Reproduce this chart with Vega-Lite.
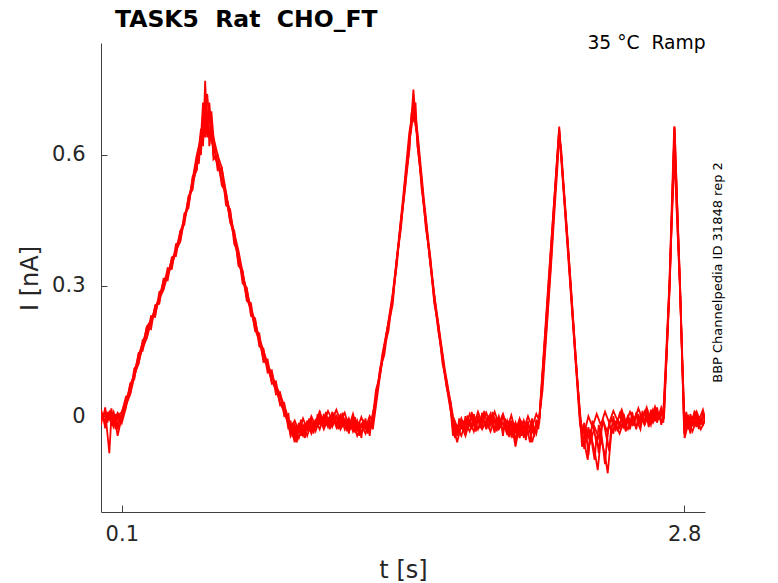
{
  "$schema": "https://vega.github.io/schema/vega-lite/v6.json",
  "width": 604,
  "height": 469,
  "autosize": {"type": "none"},
  "padding": {"left": 101, "top": 43, "right": 73, "bottom": 71},
  "background": "white",
  "config": {
    "view": {"stroke": null},
    "font": "DejaVu Sans",
    "axis": {"grid": false, "labelFont": "DejaVu Sans", "titleFont": "DejaVu Sans"}
  },
  "title": {
    "text": "TASK5\u00a0 Rat\u00a0 CHO_FT",
    "anchor": "start",
    "frame": "group",
    "fontSize": 23.5,
    "fontWeight": "bold",
    "color": "black",
    "dx": 14,
    "dy": 17,
    "offset": 0,
    "baseline": "alphabetic"
  },
  "data": {
    "values": [
      {"sweep": "a", "t": 0.00, "i": 0.005}, {"sweep": "a", "t": 0.02, "i": -0.012}, {"sweep": "a", "t": 0.04, "i": 0.010}, {"sweep": "a", "t": 0.06, "i": -0.015}, {"sweep": "a", "t": 0.08, "i": 0.008}, {"sweep": "a", "t": 0.10, "i": -0.005},
      {"sweep": "a", "t": 0.14, "i": 0.070}, {"sweep": "a", "t": 0.18, "i": 0.120}, {"sweep": "a", "t": 0.22, "i": 0.205}, {"sweep": "a", "t": 0.26, "i": 0.235}, {"sweep": "a", "t": 0.30, "i": 0.310}, {"sweep": "a", "t": 0.34, "i": 0.345}, {"sweep": "a", "t": 0.38, "i": 0.420}, {"sweep": "a", "t": 0.42, "i": 0.485}, {"sweep": "a", "t": 0.46, "i": 0.590}, {"sweep": "a", "t": 0.48, "i": 0.620}, {"sweep": "a", "t": 0.49, "i": 0.680}, {"sweep": "a", "t": 0.50, "i": 0.640}, {"sweep": "a", "t": 0.51, "i": 0.700}, {"sweep": "a", "t": 0.52, "i": 0.650}, {"sweep": "a", "t": 0.54, "i": 0.620}, {"sweep": "a", "t": 0.58, "i": 0.540}, {"sweep": "a", "t": 0.62, "i": 0.470}, {"sweep": "a", "t": 0.66, "i": 0.355}, {"sweep": "a", "t": 0.70, "i": 0.290}, {"sweep": "a", "t": 0.74, "i": 0.200}, {"sweep": "a", "t": 0.78, "i": 0.145}, {"sweep": "a", "t": 0.82, "i": 0.080}, {"sweep": "a", "t": 0.86, "i": 0.045}, {"sweep": "a", "t": 0.89, "i": -0.005},
      {"sweep": "a", "t": 0.91, "i": -0.030}, {"sweep": "a", "t": 0.93, "i": -0.010}, {"sweep": "a", "t": 0.95, "i": -0.035}, {"sweep": "a", "t": 0.97, "i": -0.005}, {"sweep": "a", "t": 0.99, "i": -0.030}, {"sweep": "a", "t": 1.01, "i": 0.000}, {"sweep": "a", "t": 1.03, "i": -0.022}, {"sweep": "a", "t": 1.05, "i": 0.010}, {"sweep": "a", "t": 1.07, "i": -0.015}, {"sweep": "a", "t": 1.09, "i": 0.012}, {"sweep": "a", "t": 1.11, "i": -0.008}, {"sweep": "a", "t": 1.13, "i": 0.015}, {"sweep": "a", "t": 1.15, "i": -0.012}, {"sweep": "a", "t": 1.17, "i": 0.008}, {"sweep": "a", "t": 1.19, "i": -0.025}, {"sweep": "a", "t": 1.21, "i": 0.005}, {"sweep": "a", "t": 1.23, "i": -0.030}, {"sweep": "a", "t": 1.25, "i": -0.002}, {"sweep": "a", "t": 1.27, "i": -0.028}, {"sweep": "a", "t": 1.29, "i": 0.000}, {"sweep": "a", "t": 1.305, "i": -0.015},
      {"sweep": "a", "t": 1.35, "i": 0.140}, {"sweep": "a", "t": 1.40, "i": 0.265}, {"sweep": "a", "t": 1.45, "i": 0.490}, {"sweep": "a", "t": 1.48, "i": 0.630}, {"sweep": "a", "t": 1.50, "i": 0.700}, {"sweep": "a", "t": 1.52, "i": 0.640}, {"sweep": "a", "t": 1.55, "i": 0.480}, {"sweep": "a", "t": 1.60, "i": 0.275}, {"sweep": "a", "t": 1.65, "i": 0.100}, {"sweep": "a", "t": 1.69, "i": -0.010},
      {"sweep": "a", "t": 1.71, "i": -0.040}, {"sweep": "a", "t": 1.73, "i": -0.005}, {"sweep": "a", "t": 1.75, "i": -0.030}, {"sweep": "a", "t": 1.77, "i": 0.005}, {"sweep": "a", "t": 1.79, "i": -0.020}, {"sweep": "a", "t": 1.81, "i": 0.010}, {"sweep": "a", "t": 1.83, "i": -0.015}, {"sweep": "a", "t": 1.85, "i": 0.008}, {"sweep": "a", "t": 1.87, "i": -0.020}, {"sweep": "a", "t": 1.89, "i": 0.010}, {"sweep": "a", "t": 1.91, "i": -0.018}, {"sweep": "a", "t": 1.93, "i": 0.005}, {"sweep": "a", "t": 1.95, "i": -0.030}, {"sweep": "a", "t": 1.97, "i": 0.002}, {"sweep": "a", "t": 1.99, "i": -0.035}, {"sweep": "a", "t": 2.01, "i": -0.005}, {"sweep": "a", "t": 2.03, "i": -0.030}, {"sweep": "a", "t": 2.05, "i": 0.000}, {"sweep": "a", "t": 2.07, "i": -0.025}, {"sweep": "a", "t": 2.09, "i": 0.005}, {"sweep": "a", "t": 2.105, "i": -0.010},
      {"sweep": "a", "t": 2.15, "i": 0.310}, {"sweep": "a", "t": 2.20, "i": 0.665}, {"sweep": "a", "t": 2.25, "i": 0.330}, {"sweep": "a", "t": 2.30, "i": -0.010},
      {"sweep": "a", "t": 2.32, "i": -0.040}, {"sweep": "a", "t": 2.34, "i": 0.000}, {"sweep": "a", "t": 2.36, "i": -0.025}, {"sweep": "a", "t": 2.38, "i": 0.005}, {"sweep": "a", "t": 2.40, "i": -0.020}, {"sweep": "a", "t": 2.42, "i": 0.010}, {"sweep": "a", "t": 2.44, "i": -0.015}, {"sweep": "a", "t": 2.46, "i": 0.012}, {"sweep": "a", "t": 2.48, "i": -0.010}, {"sweep": "a", "t": 2.50, "i": 0.015}, {"sweep": "a", "t": 2.52, "i": -0.015}, {"sweep": "a", "t": 2.54, "i": 0.010}, {"sweep": "a", "t": 2.56, "i": -0.012}, {"sweep": "a", "t": 2.58, "i": 0.018}, {"sweep": "a", "t": 2.60, "i": -0.008}, {"sweep": "a", "t": 2.62, "i": 0.020}, {"sweep": "a", "t": 2.64, "i": -0.010}, {"sweep": "a", "t": 2.66, "i": 0.022}, {"sweep": "a", "t": 2.68, "i": -0.005}, {"sweep": "a", "t": 2.70, "i": 0.010},
      {"sweep": "a", "t": 2.73, "i": 0.310}, {"sweep": "a", "t": 2.754, "i": 0.665}, {"sweep": "a", "t": 2.78, "i": 0.300}, {"sweep": "a", "t": 2.80, "i": -0.030}, {"sweep": "a", "t": 2.82, "i": 0.000}, {"sweep": "a", "t": 2.84, "i": -0.020}, {"sweep": "a", "t": 2.86, "i": 0.010}, {"sweep": "a", "t": 2.88, "i": -0.015}, {"sweep": "a", "t": 2.90, "i": 0.005},

      {"sweep": "b", "t": 0.00, "i": -0.010}, {"sweep": "b", "t": 0.02, "i": 0.012}, {"sweep": "b", "t": 0.04, "i": -0.085}, {"sweep": "b", "t": 0.05, "i": 0.000}, {"sweep": "b", "t": 0.06, "i": 0.010}, {"sweep": "b", "t": 0.08, "i": -0.045}, {"sweep": "b", "t": 0.10, "i": 0.000},
      {"sweep": "b", "t": 0.14, "i": 0.050}, {"sweep": "b", "t": 0.18, "i": 0.130}, {"sweep": "b", "t": 0.22, "i": 0.180}, {"sweep": "b", "t": 0.26, "i": 0.250}, {"sweep": "b", "t": 0.30, "i": 0.290}, {"sweep": "b", "t": 0.34, "i": 0.360}, {"sweep": "b", "t": 0.38, "i": 0.400}, {"sweep": "b", "t": 0.42, "i": 0.500}, {"sweep": "b", "t": 0.46, "i": 0.570}, {"sweep": "b", "t": 0.48, "i": 0.660}, {"sweep": "b", "t": 0.49, "i": 0.620}, {"sweep": "b", "t": 0.50, "i": 0.770}, {"sweep": "b", "t": 0.51, "i": 0.660}, {"sweep": "b", "t": 0.52, "i": 0.720}, {"sweep": "b", "t": 0.54, "i": 0.600}, {"sweep": "b", "t": 0.58, "i": 0.560}, {"sweep": "b", "t": 0.62, "i": 0.450}, {"sweep": "b", "t": 0.66, "i": 0.370}, {"sweep": "b", "t": 0.70, "i": 0.270}, {"sweep": "b", "t": 0.74, "i": 0.220}, {"sweep": "b", "t": 0.78, "i": 0.130}, {"sweep": "b", "t": 0.82, "i": 0.100}, {"sweep": "b", "t": 0.86, "i": 0.030}, {"sweep": "b", "t": 0.89, "i": 0.000},
      {"sweep": "b", "t": 0.91, "i": -0.020}, {"sweep": "b", "t": 0.93, "i": -0.060}, {"sweep": "b", "t": 0.95, "i": -0.025}, {"sweep": "b", "t": 0.97, "i": -0.045}, {"sweep": "b", "t": 0.99, "i": -0.015}, {"sweep": "b", "t": 1.01, "i": -0.040}, {"sweep": "b", "t": 1.03, "i": -0.010}, {"sweep": "b", "t": 1.05, "i": -0.030}, {"sweep": "b", "t": 1.07, "i": 0.000}, {"sweep": "b", "t": 1.09, "i": -0.025}, {"sweep": "b", "t": 1.11, "i": 0.005}, {"sweep": "b", "t": 1.13, "i": -0.020}, {"sweep": "b", "t": 1.15, "i": 0.002}, {"sweep": "b", "t": 1.17, "i": -0.030}, {"sweep": "b", "t": 1.19, "i": -0.005}, {"sweep": "b", "t": 1.21, "i": -0.035}, {"sweep": "b", "t": 1.23, "i": -0.010}, {"sweep": "b", "t": 1.25, "i": -0.040}, {"sweep": "b", "t": 1.27, "i": -0.015}, {"sweep": "b", "t": 1.29, "i": -0.035}, {"sweep": "b", "t": 1.305, "i": 0.000},
      {"sweep": "b", "t": 1.35, "i": 0.125}, {"sweep": "b", "t": 1.40, "i": 0.280}, {"sweep": "b", "t": 1.45, "i": 0.480}, {"sweep": "b", "t": 1.48, "i": 0.610}, {"sweep": "b", "t": 1.50, "i": 0.750}, {"sweep": "b", "t": 1.52, "i": 0.620}, {"sweep": "b", "t": 1.55, "i": 0.490}, {"sweep": "b", "t": 1.60, "i": 0.265}, {"sweep": "b", "t": 1.65, "i": 0.095}, {"sweep": "b", "t": 1.69, "i": -0.020},
      {"sweep": "b", "t": 1.71, "i": -0.060}, {"sweep": "b", "t": 1.73, "i": -0.020}, {"sweep": "b", "t": 1.75, "i": -0.045}, {"sweep": "b", "t": 1.77, "i": -0.010}, {"sweep": "b", "t": 1.79, "i": -0.035}, {"sweep": "b", "t": 1.81, "i": -0.005}, {"sweep": "b", "t": 1.83, "i": -0.030}, {"sweep": "b", "t": 1.85, "i": -0.010}, {"sweep": "b", "t": 1.87, "i": -0.035}, {"sweep": "b", "t": 1.89, "i": -0.005}, {"sweep": "b", "t": 1.91, "i": -0.030}, {"sweep": "b", "t": 1.93, "i": -0.015}, {"sweep": "b", "t": 1.95, "i": -0.040}, {"sweep": "b", "t": 1.97, "i": -0.010}, {"sweep": "b", "t": 1.99, "i": -0.070}, {"sweep": "b", "t": 2.01, "i": -0.020}, {"sweep": "b", "t": 2.03, "i": -0.045}, {"sweep": "b", "t": 2.05, "i": -0.015}, {"sweep": "b", "t": 2.07, "i": -0.060}, {"sweep": "b", "t": 2.09, "i": -0.020}, {"sweep": "b", "t": 2.105, "i": -0.005},
      {"sweep": "b", "t": 2.15, "i": 0.300}, {"sweep": "b", "t": 2.20, "i": 0.655}, {"sweep": "b", "t": 2.25, "i": 0.320}, {"sweep": "b", "t": 2.30, "i": -0.020},
      {"sweep": "b", "t": 2.32, "i": -0.060}, {"sweep": "b", "t": 2.337, "i": -0.100}, {"sweep": "b", "t": 2.35, "i": -0.040}, {"sweep": "b", "t": 2.37, "i": -0.080}, {"sweep": "b", "t": 2.385, "i": -0.124}, {"sweep": "b", "t": 2.40, "i": -0.050}, {"sweep": "b", "t": 2.42, "i": -0.090}, {"sweep": "b", "t": 2.433, "i": -0.131}, {"sweep": "b", "t": 2.45, "i": -0.040}, {"sweep": "b", "t": 2.47, "i": -0.020}, {"sweep": "b", "t": 2.49, "i": -0.040}, {"sweep": "b", "t": 2.51, "i": -0.010}, {"sweep": "b", "t": 2.53, "i": -0.030}, {"sweep": "b", "t": 2.55, "i": -0.005}, {"sweep": "b", "t": 2.57, "i": -0.025}, {"sweep": "b", "t": 2.59, "i": 0.000}, {"sweep": "b", "t": 2.61, "i": -0.020}, {"sweep": "b", "t": 2.63, "i": 0.005}, {"sweep": "b", "t": 2.65, "i": -0.015}, {"sweep": "b", "t": 2.67, "i": 0.010}, {"sweep": "b", "t": 2.69, "i": -0.010}, {"sweep": "b", "t": 2.703, "i": -0.005},
      {"sweep": "b", "t": 2.73, "i": 0.300}, {"sweep": "b", "t": 2.754, "i": 0.660}, {"sweep": "b", "t": 2.78, "i": 0.290}, {"sweep": "b", "t": 2.802, "i": -0.050}, {"sweep": "b", "t": 2.82, "i": -0.015}, {"sweep": "b", "t": 2.84, "i": -0.035}, {"sweep": "b", "t": 2.86, "i": -0.005}, {"sweep": "b", "t": 2.88, "i": -0.030}, {"sweep": "b", "t": 2.90, "i": -0.010},

      {"sweep": "c", "t": 0.00, "i": 0.015}, {"sweep": "c", "t": 0.02, "i": -0.020}, {"sweep": "c", "t": 0.04, "i": 0.005}, {"sweep": "c", "t": 0.06, "i": -0.025}, {"sweep": "c", "t": 0.08, "i": 0.000}, {"sweep": "c", "t": 0.10, "i": 0.010},
      {"sweep": "c", "t": 0.14, "i": 0.060}, {"sweep": "c", "t": 0.18, "i": 0.140}, {"sweep": "c", "t": 0.22, "i": 0.195}, {"sweep": "c", "t": 0.26, "i": 0.245}, {"sweep": "c", "t": 0.30, "i": 0.300}, {"sweep": "c", "t": 0.34, "i": 0.350}, {"sweep": "c", "t": 0.38, "i": 0.410}, {"sweep": "c", "t": 0.42, "i": 0.490}, {"sweep": "c", "t": 0.46, "i": 0.600}, {"sweep": "c", "t": 0.48, "i": 0.640}, {"sweep": "c", "t": 0.49, "i": 0.720}, {"sweep": "c", "t": 0.50, "i": 0.690}, {"sweep": "c", "t": 0.51, "i": 0.740}, {"sweep": "c", "t": 0.52, "i": 0.680}, {"sweep": "c", "t": 0.53, "i": 0.700}, {"sweep": "c", "t": 0.54, "i": 0.640}, {"sweep": "c", "t": 0.56, "i": 0.600}, {"sweep": "c", "t": 0.58, "i": 0.570}, {"sweep": "c", "t": 0.62, "i": 0.460}, {"sweep": "c", "t": 0.66, "i": 0.380}, {"sweep": "c", "t": 0.70, "i": 0.280}, {"sweep": "c", "t": 0.74, "i": 0.210}, {"sweep": "c", "t": 0.78, "i": 0.150}, {"sweep": "c", "t": 0.82, "i": 0.090}, {"sweep": "c", "t": 0.86, "i": 0.050}, {"sweep": "c", "t": 0.89, "i": 0.010},
      {"sweep": "c", "t": 0.91, "i": -0.045}, {"sweep": "c", "t": 0.93, "i": -0.020}, {"sweep": "c", "t": 0.95, "i": -0.050}, {"sweep": "c", "t": 0.97, "i": -0.020}, {"sweep": "c", "t": 0.99, "i": -0.045}, {"sweep": "c", "t": 1.01, "i": -0.015}, {"sweep": "c", "t": 1.03, "i": -0.035}, {"sweep": "c", "t": 1.05, "i": -0.005}, {"sweep": "c", "t": 1.07, "i": -0.030}, {"sweep": "c", "t": 1.09, "i": -0.005}, {"sweep": "c", "t": 1.11, "i": -0.025}, {"sweep": "c", "t": 1.13, "i": 0.000}, {"sweep": "c", "t": 1.15, "i": -0.030}, {"sweep": "c", "t": 1.17, "i": -0.010}, {"sweep": "c", "t": 1.19, "i": -0.035}, {"sweep": "c", "t": 1.21, "i": -0.015}, {"sweep": "c", "t": 1.23, "i": -0.045}, {"sweep": "c", "t": 1.25, "i": -0.020}, {"sweep": "c", "t": 1.27, "i": -0.040}, {"sweep": "c", "t": 1.29, "i": -0.010}, {"sweep": "c", "t": 1.305, "i": -0.030},
      {"sweep": "c", "t": 1.35, "i": 0.130}, {"sweep": "c", "t": 1.40, "i": 0.270}, {"sweep": "c", "t": 1.45, "i": 0.500}, {"sweep": "c", "t": 1.48, "i": 0.650}, {"sweep": "c", "t": 1.49, "i": 0.680}, {"sweep": "c", "t": 1.50, "i": 0.720}, {"sweep": "c", "t": 1.51, "i": 0.690}, {"sweep": "c", "t": 1.52, "i": 0.650}, {"sweep": "c", "t": 1.55, "i": 0.500}, {"sweep": "c", "t": 1.60, "i": 0.280}, {"sweep": "c", "t": 1.65, "i": 0.110}, {"sweep": "c", "t": 1.69, "i": 0.000},
      {"sweep": "c", "t": 1.71, "i": -0.025}, {"sweep": "c", "t": 1.73, "i": -0.045}, {"sweep": "c", "t": 1.75, "i": -0.015}, {"sweep": "c", "t": 1.77, "i": -0.035}, {"sweep": "c", "t": 1.79, "i": -0.005}, {"sweep": "c", "t": 1.81, "i": -0.030}, {"sweep": "c", "t": 1.83, "i": 0.000}, {"sweep": "c", "t": 1.85, "i": -0.025}, {"sweep": "c", "t": 1.87, "i": 0.005}, {"sweep": "c", "t": 1.89, "i": -0.030}, {"sweep": "c", "t": 1.91, "i": 0.000}, {"sweep": "c", "t": 1.93, "i": -0.035}, {"sweep": "c", "t": 1.95, "i": -0.010}, {"sweep": "c", "t": 1.97, "i": -0.045}, {"sweep": "c", "t": 1.99, "i": -0.015}, {"sweep": "c", "t": 2.01, "i": -0.050}, {"sweep": "c", "t": 2.03, "i": -0.010}, {"sweep": "c", "t": 2.05, "i": -0.040}, {"sweep": "c", "t": 2.07, "i": -0.015}, {"sweep": "c", "t": 2.09, "i": -0.040}, {"sweep": "c", "t": 2.105, "i": 0.000},
      {"sweep": "c", "t": 2.15, "i": 0.320}, {"sweep": "c", "t": 2.20, "i": 0.660}, {"sweep": "c", "t": 2.25, "i": 0.340}, {"sweep": "c", "t": 2.30, "i": -0.005},
      {"sweep": "c", "t": 2.31, "i": -0.070}, {"sweep": "c", "t": 2.33, "i": -0.030}, {"sweep": "c", "t": 2.35, "i": -0.060}, {"sweep": "c", "t": 2.37, "i": -0.025}, {"sweep": "c", "t": 2.39, "i": -0.050}, {"sweep": "c", "t": 2.41, "i": -0.010}, {"sweep": "c", "t": 2.43, "i": -0.035}, {"sweep": "c", "t": 2.45, "i": -0.005}, {"sweep": "c", "t": 2.47, "i": -0.030}, {"sweep": "c", "t": 2.49, "i": 0.005}, {"sweep": "c", "t": 2.51, "i": -0.025}, {"sweep": "c", "t": 2.53, "i": 0.000}, {"sweep": "c", "t": 2.55, "i": -0.020}, {"sweep": "c", "t": 2.57, "i": 0.005}, {"sweep": "c", "t": 2.59, "i": -0.020}, {"sweep": "c", "t": 2.61, "i": 0.010}, {"sweep": "c", "t": 2.63, "i": -0.015}, {"sweep": "c", "t": 2.65, "i": 0.015}, {"sweep": "c", "t": 2.67, "i": -0.010}, {"sweep": "c", "t": 2.69, "i": 0.020}, {"sweep": "c", "t": 2.703, "i": 0.000},
      {"sweep": "c", "t": 2.73, "i": 0.320}, {"sweep": "c", "t": 2.752, "i": 0.665}, {"sweep": "c", "t": 2.78, "i": 0.310}, {"sweep": "c", "t": 2.80, "i": -0.040}, {"sweep": "c", "t": 2.81, "i": 0.005}, {"sweep": "c", "t": 2.83, "i": -0.020}, {"sweep": "c", "t": 2.85, "i": 0.010}, {"sweep": "c", "t": 2.87, "i": -0.010}, {"sweep": "c", "t": 2.89, "i": 0.015}, {"sweep": "c", "t": 2.90, "i": -0.005},

      {"sweep": "d", "t": 0.00, "i": 0.012}, {"sweep": "d", "t": 0.01, "i": -0.008}, {"sweep": "d", "t": 0.02, "i": 0.020}, {"sweep": "d", "t": 0.03, "i": -0.015}, {"sweep": "d", "t": 0.04, "i": 0.004}, {"sweep": "d", "t": 0.05, "i": -0.022}, {"sweep": "d", "t": 0.06, "i": 0.010}, {"sweep": "d", "t": 0.07, "i": -0.030}, {"sweep": "d", "t": 0.08, "i": 0.002}, {"sweep": "d", "t": 0.09, "i": -0.012}, {"sweep": "d", "t": 0.10, "i": 0.008},
      {"sweep": "d", "t": 0.12, "i": 0.045}, {"sweep": "d", "t": 0.14, "i": 0.050}, {"sweep": "d", "t": 0.16, "i": 0.110}, {"sweep": "d", "t": 0.18, "i": 0.120}, {"sweep": "d", "t": 0.20, "i": 0.175}, {"sweep": "d", "t": 0.22, "i": 0.180}, {"sweep": "d", "t": 0.24, "i": 0.230}, {"sweep": "d", "t": 0.26, "i": 0.228}, {"sweep": "d", "t": 0.28, "i": 0.285}, {"sweep": "d", "t": 0.30, "i": 0.292}, {"sweep": "d", "t": 0.32, "i": 0.340}, {"sweep": "d", "t": 0.34, "i": 0.338}, {"sweep": "d", "t": 0.36, "i": 0.395}, {"sweep": "d", "t": 0.38, "i": 0.400}, {"sweep": "d", "t": 0.40, "i": 0.465}, {"sweep": "d", "t": 0.42, "i": 0.478}, {"sweep": "d", "t": 0.44, "i": 0.550}, {"sweep": "d", "t": 0.46, "i": 0.565}, {"sweep": "d", "t": 0.47, "i": 0.620}, {"sweep": "d", "t": 0.48, "i": 0.600}, {"sweep": "d", "t": 0.49, "i": 0.700}, {"sweep": "d", "t": 0.50, "i": 0.660}, {"sweep": "d", "t": 0.505, "i": 0.740}, {"sweep": "d", "t": 0.51, "i": 0.680},
      {"sweep": "d", "t": 0.52, "i": 0.700}, {"sweep": "d", "t": 0.53, "i": 0.630}, {"sweep": "d", "t": 0.54, "i": 0.640}, {"sweep": "d", "t": 0.56, "i": 0.565}, {"sweep": "d", "t": 0.58, "i": 0.570}, {"sweep": "d", "t": 0.60, "i": 0.485}, {"sweep": "d", "t": 0.62, "i": 0.475}, {"sweep": "d", "t": 0.64, "i": 0.395}, {"sweep": "d", "t": 0.66, "i": 0.375}, {"sweep": "d", "t": 0.68, "i": 0.305}, {"sweep": "d", "t": 0.70, "i": 0.295}, {"sweep": "d", "t": 0.72, "i": 0.230}, {"sweep": "d", "t": 0.74, "i": 0.225}, {"sweep": "d", "t": 0.76, "i": 0.160}, {"sweep": "d", "t": 0.78, "i": 0.155}, {"sweep": "d", "t": 0.80, "i": 0.100}, {"sweep": "d", "t": 0.82, "i": 0.105}, {"sweep": "d", "t": 0.84, "i": 0.050}, {"sweep": "d", "t": 0.86, "i": 0.055}, {"sweep": "d", "t": 0.88, "i": 0.000}, {"sweep": "d", "t": 0.90, "i": 0.005},
      {"sweep": "d", "t": 0.91, "i": -0.040}, {"sweep": "d", "t": 0.92, "i": -0.015}, {"sweep": "d", "t": 0.93, "i": -0.055}, {"sweep": "d", "t": 0.94, "i": -0.020}, {"sweep": "d", "t": 0.95, "i": -0.038}, {"sweep": "d", "t": 0.96, "i": -0.008}, {"sweep": "d", "t": 0.97, "i": -0.042}, {"sweep": "d", "t": 0.98, "i": -0.018}, {"sweep": "d", "t": 0.99, "i": -0.030}, {"sweep": "d", "t": 1.00, "i": -0.005}, {"sweep": "d", "t": 1.01, "i": -0.035}, {"sweep": "d", "t": 1.02, "i": -0.012}, {"sweep": "d", "t": 1.03, "i": -0.028}, {"sweep": "d", "t": 1.04, "i": 0.005}, {"sweep": "d", "t": 1.05, "i": -0.020}, {"sweep": "d", "t": 1.06, "i": -0.002}, {"sweep": "d", "t": 1.07, "i": -0.025}, {"sweep": "d", "t": 1.08, "i": 0.010}, {"sweep": "d", "t": 1.09, "i": -0.018}, {"sweep": "d", "t": 1.10, "i": 0.000}, {"sweep": "d", "t": 1.11, "i": -0.022}, {"sweep": "d", "t": 1.12, "i": 0.008}, {"sweep": "d", "t": 1.13, "i": -0.015}, {"sweep": "d", "t": 1.14, "i": -0.030}, {"sweep": "d", "t": 1.15, "i": 0.005}, {"sweep": "d", "t": 1.16, "i": -0.020}, {"sweep": "d", "t": 1.17, "i": -0.008}, {"sweep": "d", "t": 1.18, "i": -0.035}, {"sweep": "d", "t": 1.19, "i": -0.010}, {"sweep": "d", "t": 1.20, "i": -0.030}, {"sweep": "d", "t": 1.21, "i": 0.000}, {"sweep": "d", "t": 1.22, "i": -0.038}, {"sweep": "d", "t": 1.23, "i": -0.012}, {"sweep": "d", "t": 1.24, "i": -0.045}, {"sweep": "d", "t": 1.25, "i": -0.015}, {"sweep": "d", "t": 1.26, "i": -0.032}, {"sweep": "d", "t": 1.27, "i": -0.005}, {"sweep": "d", "t": 1.28, "i": -0.040}, {"sweep": "d", "t": 1.29, "i": -0.018}, {"sweep": "d", "t": 1.30, "i": -0.025},
      {"sweep": "d", "t": 1.32, "i": 0.060}, {"sweep": "d", "t": 1.34, "i": 0.095}, {"sweep": "d", "t": 1.36, "i": 0.160}, {"sweep": "d", "t": 1.38, "i": 0.195}, {"sweep": "d", "t": 1.40, "i": 0.275}, {"sweep": "d", "t": 1.42, "i": 0.345}, {"sweep": "d", "t": 1.44, "i": 0.450}, {"sweep": "d", "t": 1.46, "i": 0.525}, {"sweep": "d", "t": 1.48, "i": 0.635}, {"sweep": "d", "t": 1.49, "i": 0.660}, {"sweep": "d", "t": 1.50, "i": 0.730}, {"sweep": "d", "t": 1.51, "i": 0.670}, {"sweep": "d", "t": 1.52, "i": 0.640}, {"sweep": "d", "t": 1.54, "i": 0.520}, {"sweep": "d", "t": 1.56, "i": 0.450}, {"sweep": "d", "t": 1.58, "i": 0.355}, {"sweep": "d", "t": 1.60, "i": 0.280}, {"sweep": "d", "t": 1.62, "i": 0.195}, {"sweep": "d", "t": 1.64, "i": 0.140}, {"sweep": "d", "t": 1.66, "i": 0.065}, {"sweep": "d", "t": 1.68, "i": 0.030}, {"sweep": "d", "t": 1.69, "i": -0.030},
      {"sweep": "d", "t": 1.70, "i": -0.050}, {"sweep": "d", "t": 1.71, "i": -0.020}, {"sweep": "d", "t": 1.72, "i": -0.040}, {"sweep": "d", "t": 1.73, "i": -0.010}, {"sweep": "d", "t": 1.74, "i": -0.032}, {"sweep": "d", "t": 1.75, "i": 0.000}, {"sweep": "d", "t": 1.76, "i": -0.025}, {"sweep": "d", "t": 1.77, "i": -0.008}, {"sweep": "d", "t": 1.78, "i": -0.030}, {"sweep": "d", "t": 1.79, "i": 0.005}, {"sweep": "d", "t": 1.80, "i": -0.018}, {"sweep": "d", "t": 1.81, "i": -0.002}, {"sweep": "d", "t": 1.82, "i": -0.028}, {"sweep": "d", "t": 1.83, "i": 0.008}, {"sweep": "d", "t": 1.84, "i": -0.015}, {"sweep": "d", "t": 1.85, "i": -0.030}, {"sweep": "d", "t": 1.86, "i": 0.002}, {"sweep": "d", "t": 1.87, "i": -0.022}, {"sweep": "d", "t": 1.88, "i": 0.010}, {"sweep": "d", "t": 1.89, "i": -0.012}, {"sweep": "d", "t": 1.90, "i": -0.035}, {"sweep": "d", "t": 1.91, "i": -0.005}, {"sweep": "d", "t": 1.92, "i": -0.025}, {"sweep": "d", "t": 1.93, "i": 0.006}, {"sweep": "d", "t": 1.94, "i": -0.020}, {"sweep": "d", "t": 1.95, "i": -0.042}, {"sweep": "d", "t": 1.96, "i": -0.010}, {"sweep": "d", "t": 1.97, "i": -0.030}, {"sweep": "d", "t": 1.98, "i": -0.050}, {"sweep": "d", "t": 1.99, "i": -0.015}, {"sweep": "d", "t": 2.00, "i": -0.038}, {"sweep": "d", "t": 2.01, "i": -0.008}, {"sweep": "d", "t": 2.02, "i": -0.045}, {"sweep": "d", "t": 2.03, "i": -0.020}, {"sweep": "d", "t": 2.04, "i": -0.055}, {"sweep": "d", "t": 2.05, "i": -0.012}, {"sweep": "d", "t": 2.06, "i": -0.035}, {"sweep": "d", "t": 2.07, "i": -0.005}, {"sweep": "d", "t": 2.08, "i": -0.040}, {"sweep": "d", "t": 2.09, "i": -0.018}, {"sweep": "d", "t": 2.10, "i": -0.030},
      {"sweep": "d", "t": 2.12, "i": 0.080}, {"sweep": "d", "t": 2.14, "i": 0.210}, {"sweep": "d", "t": 2.16, "i": 0.350}, {"sweep": "d", "t": 2.18, "i": 0.510}, {"sweep": "d", "t": 2.20, "i": 0.650}, {"sweep": "d", "t": 2.21, "i": 0.600}, {"sweep": "d", "t": 2.22, "i": 0.530}, {"sweep": "d", "t": 2.24, "i": 0.400}, {"sweep": "d", "t": 2.26, "i": 0.260}, {"sweep": "d", "t": 2.28, "i": 0.120}, {"sweep": "d", "t": 2.30, "i": 0.010},
      {"sweep": "d", "t": 2.31, "i": -0.045}, {"sweep": "d", "t": 2.32, "i": -0.015}, {"sweep": "d", "t": 2.33, "i": -0.060}, {"sweep": "d", "t": 2.34, "i": -0.025}, {"sweep": "d", "t": 2.35, "i": -0.050}, {"sweep": "d", "t": 2.36, "i": -0.010}, {"sweep": "d", "t": 2.37, "i": -0.038}, {"sweep": "d", "t": 2.38, "i": -0.065}, {"sweep": "d", "t": 2.39, "i": -0.020}, {"sweep": "d", "t": 2.40, "i": -0.045}, {"sweep": "d", "t": 2.41, "i": -0.008}, {"sweep": "d", "t": 2.42, "i": -0.030}, {"sweep": "d", "t": 2.43, "i": -0.055}, {"sweep": "d", "t": 2.44, "i": -0.015}, {"sweep": "d", "t": 2.45, "i": -0.035}, {"sweep": "d", "t": 2.46, "i": 0.000}, {"sweep": "d", "t": 2.47, "i": -0.028}, {"sweep": "d", "t": 2.48, "i": -0.005}, {"sweep": "d", "t": 2.49, "i": -0.030}, {"sweep": "d", "t": 2.50, "i": 0.008}, {"sweep": "d", "t": 2.51, "i": -0.018}, {"sweep": "d", "t": 2.52, "i": -0.035}, {"sweep": "d", "t": 2.53, "i": 0.002}, {"sweep": "d", "t": 2.54, "i": -0.022}, {"sweep": "d", "t": 2.55, "i": 0.010}, {"sweep": "d", "t": 2.56, "i": -0.012}, {"sweep": "d", "t": 2.57, "i": -0.030}, {"sweep": "d", "t": 2.58, "i": 0.005}, {"sweep": "d", "t": 2.59, "i": -0.015}, {"sweep": "d", "t": 2.60, "i": 0.012}, {"sweep": "d", "t": 2.61, "i": -0.020}, {"sweep": "d", "t": 2.62, "i": 0.000}, {"sweep": "d", "t": 2.63, "i": -0.025}, {"sweep": "d", "t": 2.64, "i": 0.015}, {"sweep": "d", "t": 2.65, "i": -0.010}, {"sweep": "d", "t": 2.66, "i": 0.018}, {"sweep": "d", "t": 2.67, "i": -0.015}, {"sweep": "d", "t": 2.68, "i": 0.008}, {"sweep": "d", "t": 2.69, "i": -0.020}, {"sweep": "d", "t": 2.70, "i": 0.005},
      {"sweep": "d", "t": 2.715, "i": 0.130}, {"sweep": "d", "t": 2.73, "i": 0.290}, {"sweep": "d", "t": 2.74, "i": 0.450}, {"sweep": "d", "t": 2.752, "i": 0.640}, {"sweep": "d", "t": 2.765, "i": 0.470}, {"sweep": "d", "t": 2.78, "i": 0.300}, {"sweep": "d", "t": 2.79, "i": 0.150}, {"sweep": "d", "t": 2.80, "i": 0.000}, {"sweep": "d", "t": 2.805, "i": -0.040},
      {"sweep": "d", "t": 2.81, "i": -0.010}, {"sweep": "d", "t": 2.82, "i": -0.030}, {"sweep": "d", "t": 2.83, "i": 0.005}, {"sweep": "d", "t": 2.84, "i": -0.018}, {"sweep": "d", "t": 2.85, "i": 0.012}, {"sweep": "d", "t": 2.86, "i": -0.025}, {"sweep": "d", "t": 2.87, "i": 0.000}, {"sweep": "d", "t": 2.88, "i": -0.020}, {"sweep": "d", "t": 2.89, "i": 0.010}, {"sweep": "d", "t": 2.90, "i": -0.012},

      {"sweep": "e", "t": 0.00, "i": -0.020}, {"sweep": "e", "t": 0.01, "i": 0.005}, {"sweep": "e", "t": 0.02, "i": -0.028}, {"sweep": "e", "t": 0.03, "i": 0.010}, {"sweep": "e", "t": 0.04, "i": -0.010}, {"sweep": "e", "t": 0.05, "i": 0.018}, {"sweep": "e", "t": 0.06, "i": -0.020}, {"sweep": "e", "t": 0.07, "i": 0.005}, {"sweep": "e", "t": 0.08, "i": -0.030}, {"sweep": "e", "t": 0.09, "i": 0.000}, {"sweep": "e", "t": 0.10, "i": -0.015},
      {"sweep": "e", "t": 0.12, "i": 0.020}, {"sweep": "e", "t": 0.14, "i": 0.075}, {"sweep": "e", "t": 0.16, "i": 0.085}, {"sweep": "e", "t": 0.18, "i": 0.145}, {"sweep": "e", "t": 0.20, "i": 0.150}, {"sweep": "e", "t": 0.22, "i": 0.205}, {"sweep": "e", "t": 0.24, "i": 0.200}, {"sweep": "e", "t": 0.26, "i": 0.255}, {"sweep": "e", "t": 0.28, "i": 0.258}, {"sweep": "e", "t": 0.30, "i": 0.315}, {"sweep": "e", "t": 0.32, "i": 0.312}, {"sweep": "e", "t": 0.34, "i": 0.365}, {"sweep": "e", "t": 0.36, "i": 0.368}, {"sweep": "e", "t": 0.38, "i": 0.425}, {"sweep": "e", "t": 0.40, "i": 0.440}, {"sweep": "e", "t": 0.42, "i": 0.505}, {"sweep": "e", "t": 0.44, "i": 0.520}, {"sweep": "e", "t": 0.46, "i": 0.595}, {"sweep": "e", "t": 0.47, "i": 0.580}, {"sweep": "e", "t": 0.48, "i": 0.650}, {"sweep": "e", "t": 0.49, "i": 0.630}, {"sweep": "e", "t": 0.50, "i": 0.720}, {"sweep": "e", "t": 0.51, "i": 0.640}, {"sweep": "e", "t": 0.515, "i": 0.700},
      {"sweep": "e", "t": 0.52, "i": 0.620}, {"sweep": "e", "t": 0.53, "i": 0.680}, {"sweep": "e", "t": 0.54, "i": 0.590}, {"sweep": "e", "t": 0.56, "i": 0.600}, {"sweep": "e", "t": 0.58, "i": 0.530}, {"sweep": "e", "t": 0.60, "i": 0.515}, {"sweep": "e", "t": 0.62, "i": 0.445}, {"sweep": "e", "t": 0.64, "i": 0.425}, {"sweep": "e", "t": 0.66, "i": 0.345}, {"sweep": "e", "t": 0.68, "i": 0.335}, {"sweep": "e", "t": 0.70, "i": 0.265}, {"sweep": "e", "t": 0.72, "i": 0.260}, {"sweep": "e", "t": 0.74, "i": 0.195}, {"sweep": "e", "t": 0.76, "i": 0.190}, {"sweep": "e", "t": 0.78, "i": 0.125}, {"sweep": "e", "t": 0.80, "i": 0.130}, {"sweep": "e", "t": 0.82, "i": 0.075}, {"sweep": "e", "t": 0.84, "i": 0.080}, {"sweep": "e", "t": 0.86, "i": 0.025}, {"sweep": "e", "t": 0.88, "i": 0.030}, {"sweep": "e", "t": 0.90, "i": -0.030},
      {"sweep": "e", "t": 0.91, "i": -0.010}, {"sweep": "e", "t": 0.92, "i": -0.048}, {"sweep": "e", "t": 0.93, "i": -0.025}, {"sweep": "e", "t": 0.94, "i": -0.060}, {"sweep": "e", "t": 0.95, "i": -0.015}, {"sweep": "e", "t": 0.96, "i": -0.045}, {"sweep": "e", "t": 0.97, "i": -0.028}, {"sweep": "e", "t": 0.98, "i": -0.050}, {"sweep": "e", "t": 0.99, "i": -0.010}, {"sweep": "e", "t": 1.00, "i": -0.032}, {"sweep": "e", "t": 1.01, "i": -0.005}, {"sweep": "e", "t": 1.02, "i": -0.040}, {"sweep": "e", "t": 1.03, "i": -0.008}, {"sweep": "e", "t": 1.04, "i": -0.025}, {"sweep": "e", "t": 1.05, "i": 0.012}, {"sweep": "e", "t": 1.06, "i": -0.018}, {"sweep": "e", "t": 1.07, "i": 0.005}, {"sweep": "e", "t": 1.08, "i": -0.022}, {"sweep": "e", "t": 1.09, "i": -0.002}, {"sweep": "e", "t": 1.10, "i": -0.030}, {"sweep": "e", "t": 1.11, "i": 0.010}, {"sweep": "e", "t": 1.12, "i": -0.012}, {"sweep": "e", "t": 1.13, "i": -0.025}, {"sweep": "e", "t": 1.14, "i": 0.002}, {"sweep": "e", "t": 1.15, "i": -0.028}, {"sweep": "e", "t": 1.16, "i": 0.008}, {"sweep": "e", "t": 1.17, "i": -0.022}, {"sweep": "e", "t": 1.18, "i": -0.005}, {"sweep": "e", "t": 1.19, "i": -0.040}, {"sweep": "e", "t": 1.20, "i": -0.010}, {"sweep": "e", "t": 1.21, "i": -0.028}, {"sweep": "e", "t": 1.22, "i": -0.002}, {"sweep": "e", "t": 1.23, "i": -0.035}, {"sweep": "e", "t": 1.24, "i": -0.018}, {"sweep": "e", "t": 1.25, "i": -0.050}, {"sweep": "e", "t": 1.26, "i": -0.008}, {"sweep": "e", "t": 1.27, "i": -0.030}, {"sweep": "e", "t": 1.28, "i": -0.012}, {"sweep": "e", "t": 1.29, "i": -0.045}, {"sweep": "e", "t": 1.30, "i": -0.005},
      {"sweep": "e", "t": 1.32, "i": 0.040}, {"sweep": "e", "t": 1.34, "i": 0.110}, {"sweep": "e", "t": 1.36, "i": 0.140}, {"sweep": "e", "t": 1.38, "i": 0.210}, {"sweep": "e", "t": 1.40, "i": 0.255}, {"sweep": "e", "t": 1.42, "i": 0.360}, {"sweep": "e", "t": 1.44, "i": 0.430}, {"sweep": "e", "t": 1.46, "i": 0.540}, {"sweep": "e", "t": 1.48, "i": 0.610}, {"sweep": "e", "t": 1.49, "i": 0.690}, {"sweep": "e", "t": 1.50, "i": 0.680}, {"sweep": "e", "t": 1.51, "i": 0.720}, {"sweep": "e", "t": 1.52, "i": 0.620}, {"sweep": "e", "t": 1.54, "i": 0.540}, {"sweep": "e", "t": 1.56, "i": 0.430}, {"sweep": "e", "t": 1.58, "i": 0.370}, {"sweep": "e", "t": 1.60, "i": 0.260}, {"sweep": "e", "t": 1.62, "i": 0.210}, {"sweep": "e", "t": 1.64, "i": 0.120}, {"sweep": "e", "t": 1.66, "i": 0.080}, {"sweep": "e", "t": 1.68, "i": 0.010}, {"sweep": "e", "t": 1.69, "i": -0.045},
      {"sweep": "e", "t": 1.70, "i": -0.015}, {"sweep": "e", "t": 1.71, "i": -0.045}, {"sweep": "e", "t": 1.72, "i": -0.005}, {"sweep": "e", "t": 1.73, "i": -0.030}, {"sweep": "e", "t": 1.74, "i": -0.010}, {"sweep": "e", "t": 1.75, "i": -0.040}, {"sweep": "e", "t": 1.76, "i": 0.002}, {"sweep": "e", "t": 1.77, "i": -0.025}, {"sweep": "e", "t": 1.78, "i": 0.010}, {"sweep": "e", "t": 1.79, "i": -0.018}, {"sweep": "e", "t": 1.80, "i": -0.035}, {"sweep": "e", "t": 1.81, "i": 0.000}, {"sweep": "e", "t": 1.82, "i": -0.012}, {"sweep": "e", "t": 1.83, "i": -0.030}, {"sweep": "e", "t": 1.84, "i": 0.012}, {"sweep": "e", "t": 1.85, "i": -0.008}, {"sweep": "e", "t": 1.86, "i": -0.028}, {"sweep": "e", "t": 1.87, "i": 0.004}, {"sweep": "e", "t": 1.88, "i": -0.020}, {"sweep": "e", "t": 1.89, "i": -0.038}, {"sweep": "e", "t": 1.90, "i": -0.002}, {"sweep": "e", "t": 1.91, "i": -0.030}, {"sweep": "e", "t": 1.92, "i": -0.010}, {"sweep": "e", "t": 1.93, "i": -0.045}, {"sweep": "e", "t": 1.94, "i": -0.005}, {"sweep": "e", "t": 1.95, "i": -0.025}, {"sweep": "e", "t": 1.96, "i": -0.048}, {"sweep": "e", "t": 1.97, "i": -0.012}, {"sweep": "e", "t": 1.98, "i": -0.030}, {"sweep": "e", "t": 1.99, "i": -0.060}, {"sweep": "e", "t": 2.00, "i": -0.020}, {"sweep": "e", "t": 2.01, "i": -0.042}, {"sweep": "e", "t": 2.02, "i": -0.010}, {"sweep": "e", "t": 2.03, "i": -0.050}, {"sweep": "e", "t": 2.04, "i": -0.015}, {"sweep": "e", "t": 2.05, "i": -0.038}, {"sweep": "e", "t": 2.06, "i": -0.060}, {"sweep": "e", "t": 2.07, "i": -0.025}, {"sweep": "e", "t": 2.08, "i": -0.048}, {"sweep": "e", "t": 2.09, "i": -0.008}, {"sweep": "e", "t": 2.10, "i": -0.020},
      {"sweep": "e", "t": 2.12, "i": 0.060}, {"sweep": "e", "t": 2.14, "i": 0.200}, {"sweep": "e", "t": 2.16, "i": 0.340}, {"sweep": "e", "t": 2.18, "i": 0.490}, {"sweep": "e", "t": 2.19, "i": 0.560}, {"sweep": "e", "t": 2.20, "i": 0.640}, {"sweep": "e", "t": 2.21, "i": 0.610}, {"sweep": "e", "t": 2.22, "i": 0.540}, {"sweep": "e", "t": 2.24, "i": 0.410}, {"sweep": "e", "t": 2.26, "i": 0.270}, {"sweep": "e", "t": 2.28, "i": 0.130}, {"sweep": "e", "t": 2.30, "i": 0.000},
      {"sweep": "e", "t": 2.31, "i": -0.030}, {"sweep": "e", "t": 2.32, "i": -0.075}, {"sweep": "e", "t": 2.33, "i": -0.040}, {"sweep": "e", "t": 2.34, "i": -0.090}, {"sweep": "e", "t": 2.35, "i": -0.030}, {"sweep": "e", "t": 2.36, "i": -0.070}, {"sweep": "e", "t": 2.37, "i": -0.100}, {"sweep": "e", "t": 2.38, "i": -0.045}, {"sweep": "e", "t": 2.39, "i": -0.085}, {"sweep": "e", "t": 2.40, "i": -0.030}, {"sweep": "e", "t": 2.41, "i": -0.070}, {"sweep": "e", "t": 2.42, "i": -0.110}, {"sweep": "e", "t": 2.43, "i": -0.050}, {"sweep": "e", "t": 2.44, "i": -0.080}, {"sweep": "e", "t": 2.45, "i": -0.025}, {"sweep": "e", "t": 2.46, "i": -0.040}, {"sweep": "e", "t": 2.47, "i": -0.010}, {"sweep": "e", "t": 2.48, "i": -0.035}, {"sweep": "e", "t": 2.49, "i": -0.012}, {"sweep": "e", "t": 2.50, "i": -0.028}, {"sweep": "e", "t": 2.51, "i": 0.005}, {"sweep": "e", "t": 2.52, "i": -0.020}, {"sweep": "e", "t": 2.53, "i": -0.008}, {"sweep": "e", "t": 2.54, "i": -0.030}, {"sweep": "e", "t": 2.55, "i": -0.002}, {"sweep": "e", "t": 2.56, "i": -0.022}, {"sweep": "e", "t": 2.57, "i": 0.008}, {"sweep": "e", "t": 2.58, "i": -0.018}, {"sweep": "e", "t": 2.59, "i": -0.030}, {"sweep": "e", "t": 2.60, "i": 0.000}, {"sweep": "e", "t": 2.61, "i": -0.015}, {"sweep": "e", "t": 2.62, "i": 0.015}, {"sweep": "e", "t": 2.63, "i": -0.008}, {"sweep": "e", "t": 2.64, "i": -0.020}, {"sweep": "e", "t": 2.65, "i": 0.010}, {"sweep": "e", "t": 2.66, "i": -0.012}, {"sweep": "e", "t": 2.67, "i": 0.020}, {"sweep": "e", "t": 2.68, "i": -0.008}, {"sweep": "e", "t": 2.69, "i": 0.012}, {"sweep": "e", "t": 2.70, "i": -0.015},
      {"sweep": "e", "t": 2.715, "i": 0.140}, {"sweep": "e", "t": 2.73, "i": 0.300}, {"sweep": "e", "t": 2.74, "i": 0.440}, {"sweep": "e", "t": 2.754, "i": 0.600}, {"sweep": "e", "t": 2.765, "i": 0.460}, {"sweep": "e", "t": 2.78, "i": 0.290}, {"sweep": "e", "t": 2.79, "i": 0.140}, {"sweep": "e", "t": 2.80, "i": 0.010}, {"sweep": "e", "t": 2.805, "i": -0.030},
      {"sweep": "e", "t": 2.81, "i": 0.010}, {"sweep": "e", "t": 2.82, "i": -0.020}, {"sweep": "e", "t": 2.83, "i": -0.040}, {"sweep": "e", "t": 2.84, "i": 0.000}, {"sweep": "e", "t": 2.85, "i": -0.025}, {"sweep": "e", "t": 2.86, "i": 0.008}, {"sweep": "e", "t": 2.87, "i": -0.030}, {"sweep": "e", "t": 2.88, "i": -0.005}, {"sweep": "e", "t": 2.89, "i": -0.022}, {"sweep": "e", "t": 2.90, "i": 0.000}
    ]
  },
  "layer": [
    {
      "mark": {"type": "line", "color": "#ff0000", "strokeWidth": 1.8, "clip": true},
      "encoding": {
        "x": {
          "field": "t",
          "type": "quantitative",
          "scale": {"domain": [0, 2.9], "nice": false, "zero": false},
          "axis": {
            "orient": "bottom",
            "values": [0.1, 2.8],
            "format": ".1f",
            "title": "t [s]",
            "titleFontSize": 24,
            "titleFontWeight": "normal",
            "titleColor": "#262626",
            "titleBaseline": "alphabetic",
            "titleY": 65,
            "labelFontSize": 21,
            "labelColor": "#262626",
            "labelPadding": 18,
            "tickSize": -7,
            "tickColor": "#404040",
            "domainColor": "#404040",
            "labelFlush": false
          }
        },
        "y": {
          "field": "i",
          "type": "quantitative",
          "scale": {"domain": [-0.22, 0.857], "nice": false, "zero": false},
          "axis": {
            "orient": "left",
            "values": [0, 0.3, 0.6],
            "format": ".1~f",
            "title": "I [nA]",
            "titleFontSize": 24,
            "titleFontWeight": "normal",
            "titleColor": "#262626",
            "titleAngle": 270,
            "titleBaseline": "alphabetic",
            "titleX": -64,
            "titleY": 235,
            "labelFontSize": 21,
            "labelColor": "#262626",
            "labelPadding": 22,
            "tickSize": -6,
            "tickColor": "#404040",
            "domainColor": "#404040"
          }
        },
        "detail": {"field": "sweep", "type": "nominal"}
      }
    },
    {
      "mark": {"type": "point", "opacity": 0},
      "encoding": {
        "x": {
          "datum": 1,
          "type": "quantitative",
          "axis": {
            "orient": "top",
            "domain": false,
            "ticks": false,
            "labels": false,
            "title": "35 °C\u00a0 Ramp",
            "titleFontSize": 18.7,
            "titleFontWeight": "normal",
            "titleColor": "black",
            "titleAnchor": "end",
            "titleAlign": "right",
            "titleBaseline": "alphabetic",
            "titleY": 5
          }
        },
        "y": {
          "datum": 0,
          "type": "quantitative",
          "axis": {
            "orient": "right",
            "domain": false,
            "ticks": false,
            "labels": false,
            "title": "BBP Channelpedia ID 31848 rep 2",
            "titleFontSize": 13,
            "titleFontWeight": "normal",
            "titleColor": "black",
            "titleAngle": 270,
            "titleAlign": "center",
            "titleBaseline": "alphabetic",
            "titleX": 16.5,
            "titleY": 229
          }
        }
      }
    }
  ],
  "resolve": {"axis": {"x": "independent", "y": "independent"}}
}
